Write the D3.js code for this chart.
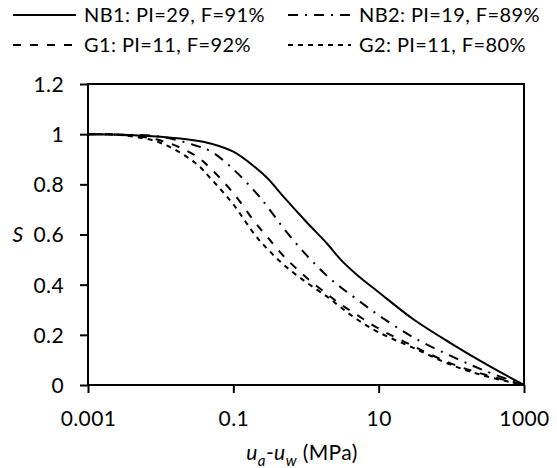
<!DOCTYPE html>
<html lang="en">
<head>
  <meta charset="UTF-8" />
  <title>Degree of saturation vs suction</title>
  <style>
    body {
      margin: 0;
      padding: 0;
      background: #fff;
    }
    svg text {
      font-family: "Lato", "Open Sans", sans-serif;
      letter-spacing: 0.4px;
      fill: #000;
    }
  </style>
</head>
<body>
<svg id="chart" width="557" height="468"></svg>

<script src="https://d3js.org/d3.v7.min.js"></script>
<script>
  // suction values (MPa), shared by all series
  const suction = [0.001, 0.003, 0.01, 0.03, 0.05, 0.1, 0.2, 0.3, 0.5, 1, 2, 3, 5, 10, 30, 100, 300, 1000];

  // degree of saturation
  const nb1 = [1.0, 0.998, 0.99, 0.975, 0.962, 0.93, 0.868, 0.822, 0.748, 0.652, 0.56, 0.50, 0.44, 0.37, 0.262, 0.165, 0.083, 0];
  const nb2 = [1.0, 0.998, 0.99, 0.955, 0.93, 0.86, 0.77, 0.708, 0.622, 0.52, 0.432, 0.39, 0.342, 0.278, 0.19, 0.115, 0.055, 0];
  const g1  = [1.0, 0.997, 0.975, 0.915, 0.86, 0.765, 0.648, 0.587, 0.512, 0.43, 0.36, 0.322, 0.28, 0.225, 0.155, 0.085, 0.04, 0];
  const g2  = [1.0, 0.996, 0.965, 0.885, 0.82, 0.72, 0.597, 0.54, 0.478, 0.41, 0.35, 0.31, 0.262, 0.21, 0.148, 0.08, 0.035, 0];

  const seriesNames = ["NB1: PI=29, F=91%", "NB2: PI=19, F=89%", "G1: PI=11, F=92%", "G2: PI=11, F=80%"];
  const xTicks = [0.001, 0.1, 10, 1000];
  const yTicks = [0, 0.2, 0.4, 0.6, 0.8, 1, 1.2];

  const dashes = ["none", "10,7,2,7", "8,9", "5,5"];

  const svg = d3.select("#chart");
  const margin = { top: 84, right: 33, bottom: 83, left: 88 };
  const width = +svg.attr("width");
  const height = +svg.attr("height");
  const fontSize = 20;

  const x = d3.scaleLog()
    .domain([0.001, 1000])
    .range([margin.left, width - margin.right]);

  const y = d3.scaleLinear()
    .domain([0, 1.2])
    .range([height - margin.bottom, margin.top]);

  const series = [nb1, nb2, g1, g2].map((vals, i) => ({
    name: seriesNames[i],
    dash: dashes[i],
    points: suction.map((s, j) => ({ s: s, v: vals[j] }))
  }));

  const line = d3.line()
    .x(d => x(d.s))
    .y(d => y(d.v))
    .curve(d3.curveCatmullRom.alpha(0.5));

  svg.append("g")
    .selectAll("path")
    .data(series)
    .enter().append("path")
    .attr("d", d => line(d.points))
    .attr("fill", "none")
    .attr("stroke", "#000")
    .attr("stroke-width", 2)
    .attr("stroke-dasharray", d => d.dash);

  // frame
  svg.append("rect")
    .attr("x", x.range()[0])
    .attr("y", y.range()[1])
    .attr("width", x.range()[1] - x.range()[0])
    .attr("height", y.range()[0] - y.range()[1])
    .attr("fill", "none")
    .attr("stroke", "#000")
    .attr("stroke-width", 2);

  const xAxis = svg.append("g")
    .attr("transform", `translate(0,${y.range()[0]})`)
    .call(d3.axisBottom(x).tickValues(xTicks).tickFormat(d => String(d)).tickSize(8).tickPadding(14));

  const yAxis = svg.append("g")
    .attr("transform", `translate(${x.range()[0]},0)`)
    .call(d3.axisLeft(y).tickValues(yTicks).tickFormat(d => String(d)).tickSize(8).tickPadding(16));

  [xAxis, yAxis].forEach(g => {
    g.select(".domain").remove();
    g.selectAll(".tick line").attr("stroke", "#000").attr("stroke-width", 2);
    g.selectAll(".tick text").attr("font-size", 21).attr("font-family", "Lato, sans-serif");
  });
  xAxis.selectAll(".tick text").attr("dy", "0.9em");
  yAxis.selectAll(".tick text").attr("dy", "0.35em");

  // axis titles
  const xt = svg.append("text")
    .attr("x", 302)
    .attr("y", 460)
    .attr("text-anchor", "middle")
    .attr("font-size", 21);
  xt.append("tspan").attr("font-style", "italic").text("u");
  xt.append("tspan").attr("font-style", "italic").attr("font-size", 15).attr("dy", 6).text("a");
  xt.append("tspan").attr("dy", -6).text("-");
  xt.append("tspan").attr("font-style", "italic").text("u");
  xt.append("tspan").attr("font-style", "italic").attr("font-size", 15).attr("dy", 6).text("w");
  xt.append("tspan").attr("dy", -6).text(" (MPa)");

  svg.append("text")
    .attr("x", 18)
    .attr("y", y(0.6))
    .attr("dy", "0.35em")
    .attr("text-anchor", "middle")
    .attr("font-size", 21)
    .attr("font-style", "italic")
    .text("S");

  // legend, two columns by two rows
  const legendX = [13, 288];
  const legendY = [15, 45];
  const legend = svg.append("g")
    .selectAll("g")
    .data(series)
    .enter().append("g")
    .attr("transform", (d, i) => `translate(${legendX[i % 2]},${legendY[Math.floor(i / 2)]})`);

  legend.append("line")
    .attr("x1", 0)
    .attr("x2", 63)
    .attr("stroke", "#000")
    .attr("stroke-width", 2)
    .attr("stroke-dasharray", d => d.dash);

  legend.append("text")
    .attr("x", 71)
    .attr("dy", "0.35em")
    .attr("font-size", fontSize)
    .text(d => d.name);
</script>
</body>
</html>
